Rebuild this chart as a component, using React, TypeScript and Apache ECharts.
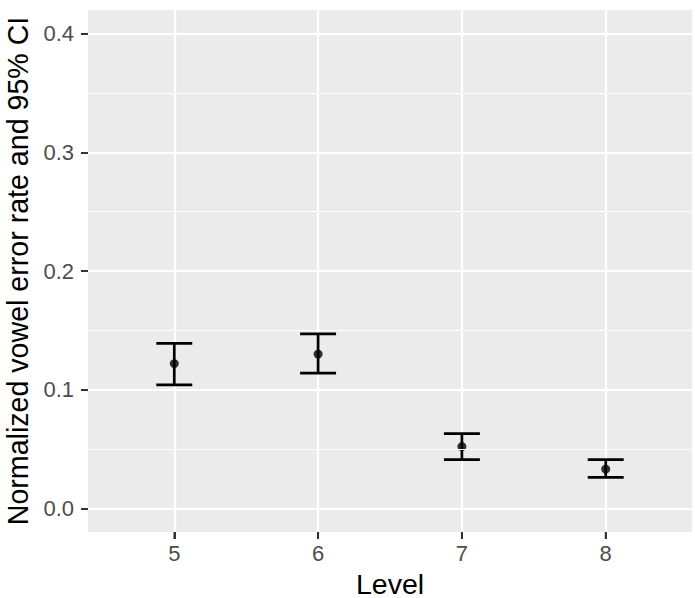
import React, { useEffect, useRef } from "react";
import * as echarts from "echarts";

const levels = [5, 6, 7, 8];
const means = [0.122, 0.130, 0.052, 0.033];
const lower = [0.104, 0.114, 0.041, 0.026];
const upper = [0.139, 0.147, 0.063, 0.041];
const yMajorTicks = [0, 0.1, 0.2, 0.3, 0.4];
const yMinorTicks = [0.05, 0.15, 0.25, 0.35];
const yMin = -0.02;
const yMax = 0.42;

const FONT = "'Liberation Sans', Arial, Helvetica, sans-serif";

export default function App() {
  const ref = useRef<HTMLDivElement>(null);
  useEffect(() => {
    if (!ref.current) return;
    const chart = echarts.init(ref.current, null, { renderer: "svg" });
    const capHalf = 0.125;
    chart.setOption({
      animation: false,
      backgroundColor: "#FFFFFF",
      grid: {
        left: 88,
        right: 3,
        top: 10,
        bottom: 66,
        show: true,
        backgroundColor: "#EBEBEB",
        borderWidth: 0,
        containLabel: false,
        outerBoundsMode: "none",
      },
      xAxis: {
        type: "value",
        position: "bottom",
        min: 4.4,
        max: 8.6,
        name: "Level",
        nameLocation: "middle",
        nameGap: 37,
        nameTextStyle: { color: "#000", fontSize: 28.5, fontFamily: FONT },
        axisLine: { show: false, onZero: false },
        axisTick: {
          show: true,
          length: 7,
          lineStyle: { color: "#333333", width: 2 },
          customValues: levels,
        },
        axisLabel: {
          color: "#4D4D4D",
          fontSize: 22,
          fontFamily: FONT,
          margin: 10,
          customValues: levels,
          formatter: (v: number) => String(v),
        },
        splitLine: { show: true, lineStyle: { color: "#FFFFFF", width: 2.2 } },
      },
      yAxis: {
        type: "value",
        min: yMin,
        max: yMax,
        name: "Normalized vowel error rate and 95% CI",
        nameLocation: "middle",
        nameRotate: 90,
        nameGap: 54,
        nameTextStyle: { color: "#000", fontSize: 28.6, fontFamily: FONT },
        axisLine: { show: false, onZero: false },
        axisTick: {
          show: true,
          length: 7,
          lineStyle: { color: "#333333", width: 2 },
          customValues: yMajorTicks,
        },
        axisLabel: {
          color: "#4D4D4D",
          fontSize: 22,
          fontFamily: FONT,
          margin: 14,
          customValues: yMajorTicks,
          formatter: (v: number) => v.toFixed(1),
        },
        splitLine: { show: true, lineStyle: { color: "#FFFFFF", width: 2.2 } },
      },
      series: [
        {
          type: "line",
          data: [],
          silent: true,
          z: 1,
          markLine: {
            silent: true,
            symbol: "none",
            label: { show: false },
            lineStyle: { color: "#FFFFFF", width: 1, type: "solid" },
            data: yMinorTicks.map((v) => ({ yAxis: v })),
          },
        },
        {
          // x-axis tick marks just below the panel, placed through the scales
          type: "scatter",
          z: 5,
          clip: false,
          silent: true,
          symbol: "rect",
          symbolSize: [2, 7],
          symbolOffset: [0, 3.5],
          itemStyle: { color: "#333333" },
          data: levels.map((l) => [l, yMin]),
        },
        {
          type: "custom",
          z: 3,
          data: levels.map((l, i) => [l, lower[i], upper[i]]),
          renderItem: (params: any, api: any) => {
            const x = api.value(0);
            const lo = api.value(1);
            const hi = api.value(2);
            const pLo = api.coord([x, lo]);
            const pHi = api.coord([x, hi]);
            const pL = api.coord([x - capHalf, lo]);
            const pR = api.coord([x + capHalf, lo]);
            const style = { stroke: "#000000", lineWidth: 2.7 };
            return {
              type: "group",
              children: [
                { type: "line", shape: { x1: pLo[0], y1: pLo[1], x2: pHi[0], y2: pHi[1] }, style },
                { type: "line", shape: { x1: pL[0], y1: pLo[1], x2: pR[0], y2: pLo[1] }, style },
                { type: "line", shape: { x1: pL[0], y1: pHi[1], x2: pR[0], y2: pHi[1] }, style },
              ],
            };
          },
        },
        {
          type: "scatter",
          z: 4,
          symbol: "circle",
          symbolSize: 9,
          itemStyle: { color: "#000000" },
          data: levels.map((l, i) => [l, means[i]]),
        },
      ],
    });
    return () => chart.dispose();
  }, []);
  return (
    <div
      ref={ref}
      style={{ position: "absolute", left: 0, top: 0, width: 695, height: 598 }}
    />
  );
}
